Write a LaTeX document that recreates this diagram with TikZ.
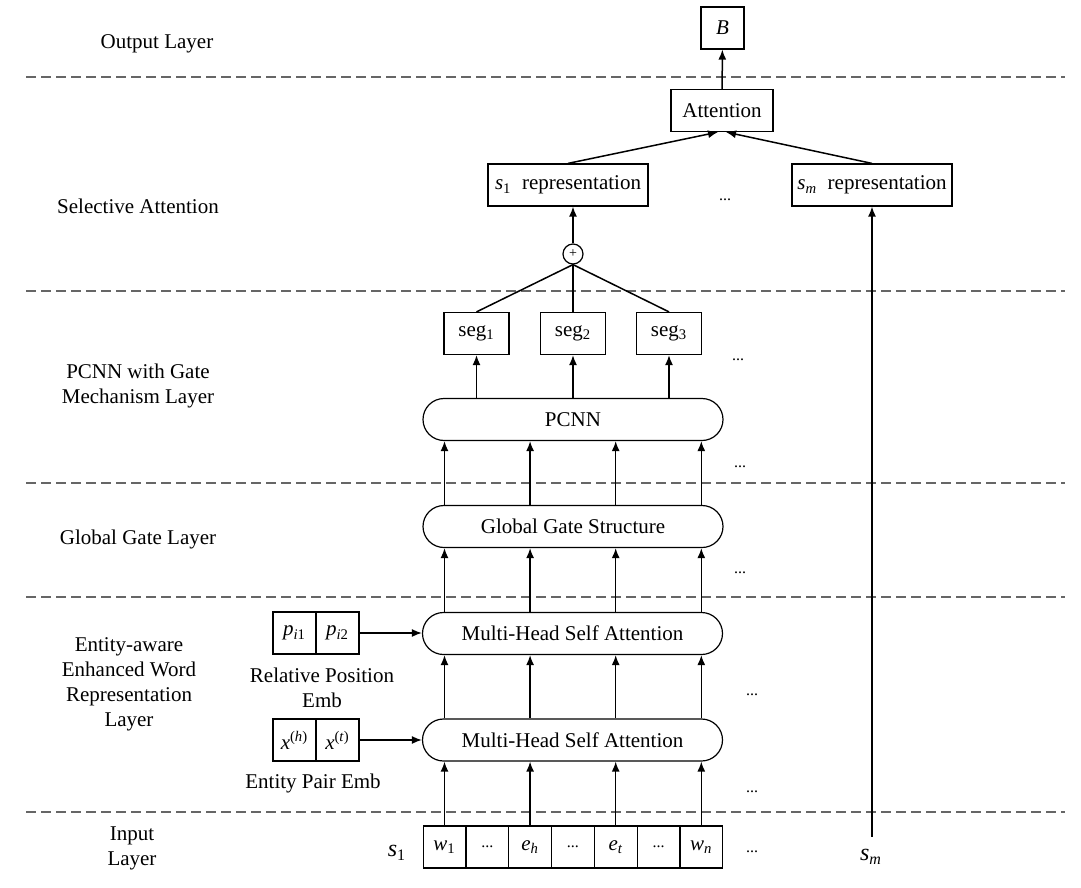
\documentclass[tikz,border=0pt]{standalone}
\usepackage{fontspec}
\setmainfont{Liberation Serif}
\usetikzlibrary{positioning,arrows.meta}
\newcommand{\skipdots}{{\fontsize{8}{9}\selectfont...}}

\begin{document}
\begin{tikzpicture}[x=0.5pt,y=-0.5pt,line width=0.6pt,font=\fontsize{10.5}{12.5}\selectfont]
	\tikzset{
		box/.style={draw,inner sep=0pt,minimum width=#1,minimum height=21pt},
		box/.default=21.4pt,
		pill/.style={draw,rounded corners=10.5pt,inner sep=0pt,minimum width=150pt,minimum height=21pt},
		lbl/.style={align=center,inner sep=0pt},
		dots/.style={inner sep=0pt,font=\fontsize{8}{9}\selectfont},
		layersep/.style={gray!80!black,dash pattern=on 5pt off 2.5pt},
		every edge/.style={draw,line width=0.75pt},
		>={Latex[length=5pt,width=4pt]}
	}
	\useasboundingbox (0,0) rectangle (1081,888);
	\foreach \y in {77,291,483,597,812}
		\draw[layersep] (26,\y) -- (1065,\y);
	\node[lbl] (lout) at (157,44) {Output Layer};
	\node[lbl] (lsel) at (138,206) {Selective Attention};
	\node[lbl] (lpcnn) at (138,386) {PCNN with Gate\\Mechanism Layer};
	\node[lbl] (lgate) at (138,539) {Global Gate Layer};
	\node[lbl] (lword) at (129,684) {Entity-aware\\Enhanced Word\\Representation\\Layer};
	\node[lbl] (lin) at (132,848) {Input\\Layer};
	\node[box=21.5pt] (b) at (722.5,28) {\textit{B}};
	\node[box=51pt] (att) at (722,110.5) {Attention};
	\node[box=80pt] (rep1) at (568,185) {\textit{s}\textsubscript{1}\ \ representation};
	\node[box=80pt] (repm) at (872,185) {\textit{s\textsubscript{m}}\ \ representation};
	\node[draw,circle,minimum size=10pt,inner sep=0pt,font=\fontsize{7}{7}\selectfont] (plus) at (573,254) {+};
	\foreach \n/\x in {1/476.5,2/573,3/669}
		\node[box=32.5pt] (seg\n) at (\x,333.5) {seg\textsubscript{\n}};
	\node[pill] (pcnn) at (573,419.5) {PCNN};
	\node[pill] (gate) at (573,526.5) {Global Gate Structure};
	\node[pill] (mhsa1) at (572.5,633.5) {Multi-Head Self Attention};
	\node[pill] (mhsa2) at (572.5,740) {Multi-Head Self Attention};
	\node[box=21.5pt] (p1) at (294.5,633) {\textit{p}\textsubscript{\textit{i}1}};
	\node[box=21.5pt] (p2) at (337.5,633) {\textit{p}\textsubscript{\textit{i}2}};
	\node[box=21.5pt] (x1) at (294.5,740) {\textit{x}\textsuperscript{(\textit{h})}};
	\node[box=21.5pt] (x2) at (337.5,740) {\textit{x}\textsuperscript{(\textit{t})}};
	\node[lbl] (relpos) at (322,687.5) {Relative Position\\Emb};
	\node[lbl] (pairemb) at (313,783) {Entity Pair Emb};
	\foreach \i/\t in {0/{\textit{w}\textsubscript{1}},1/\skipdots,2/{\textit{e\textsubscript{h}}},3/\skipdots,4/{\textit{e\textsubscript{t}}},5/\skipdots,6/{\textit{w\textsubscript{n}}}}
		\node[box] (in\i) at ({444.5+42.8*\i},847) {\t};
	\node[lbl,font=\fontsize{12}{12}\selectfont] (s1) at (397,853) {\textit{s}\textsubscript{1}};
	\node[lbl,inner ysep=6pt,font=\fontsize{12}{12}\selectfont] (sm) at (871,857) {\textit{s\textsubscript{m}}};
	\node[dots] (d1) at (725,200) {...};
	\node[dots] (d2) at (738,360) {...};
	\node[dots] (d3) at (740,467) {...};
	\node[dots] (d4) at (740,573) {...};
	\node[dots] (d5) at (752,695) {...};
	\node[dots] (d6) at (752,792) {...};
	\node[dots] (d7) at (752,852) {...};
	\path[->]
		(att) edge (b)
		(rep1.north) edge ([xshift=-2pt]att.south)
		(repm.north) edge ([xshift=2pt]att.south)
		(plus) edge (plus |- rep1.south)
		(p2) edge (p2 -| mhsa1.west)
		(x2) edge (x2 -| mhsa2.west)
		(sm.north -| repm.south) edge (repm.south);
	\foreach \n in {1,2,3} {
		\path (seg\n.north) edge (plus.south);
		\path[->] (seg\n |- pcnn.north) edge (seg\n.south);
	}
	\foreach \i in {0,2,4,6}
		\path[->]
			(in\i) edge (in\i |- mhsa2.south)
			(in\i |- mhsa2.north) edge (in\i |- mhsa1.south)
			(in\i |- mhsa1.north) edge (in\i |- gate.south)
			(in\i |- gate.north) edge (in\i |- pcnn.south);
\end{tikzpicture}
\end{document}
